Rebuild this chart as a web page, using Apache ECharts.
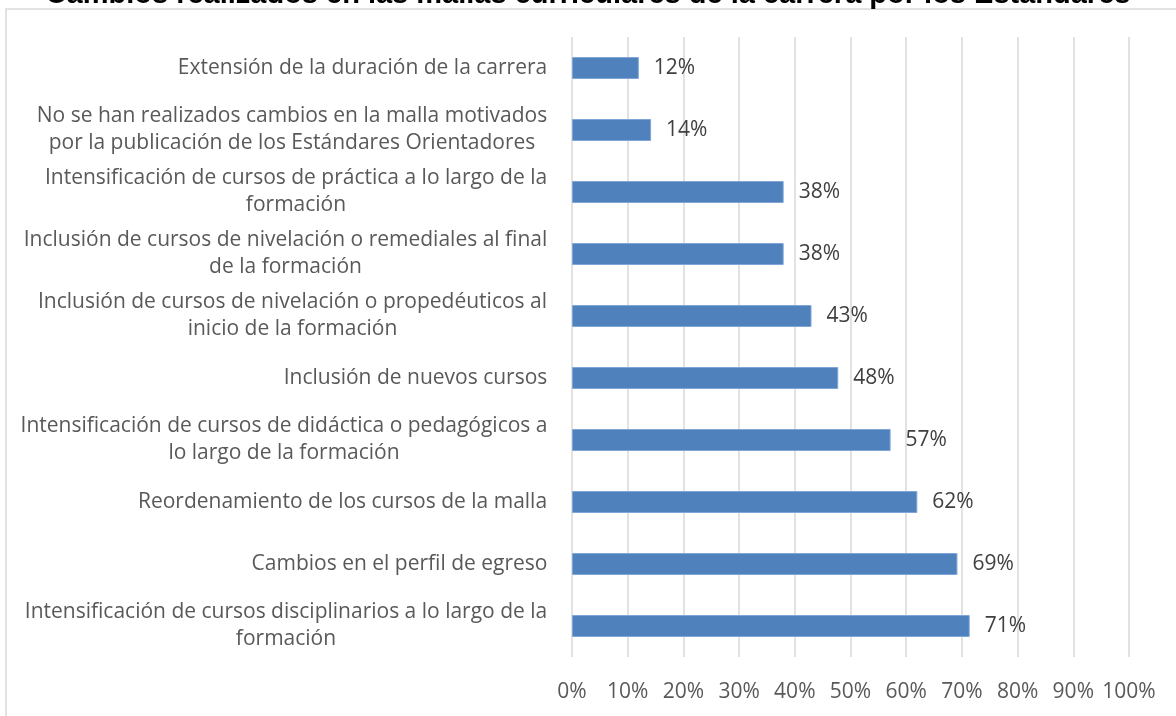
<!DOCTYPE html>
<html>
<head>
<meta charset="utf-8">
<script src="https://cdn.jsdelivr.net/npm/echarts@6/dist/echarts.min.js"></script>
<style>
  html, body { margin: 0; padding: 0; background: #fff; }
  #main { width: 1176px; height: 716px; }
</style>
</head>
<body>
<div id="main"></div>
<script>
// categorias (de arriba hacia abajo)
var categorias = [
  'Extensión de la duración de la carrera',
  'No se han realizados cambios en la malla motivados\npor la publicación de los Estándares Orientadores',
  'Intensificación de cursos de práctica a lo largo de la\nformación',
  'Inclusión de cursos de nivelación o remediales al final\nde la formación',
  'Inclusión de cursos de nivelación o propedéuticos al\ninicio de la formación',
  'Inclusión de nuevos cursos',
  'Intensificación de cursos de didáctica o pedagógicos a\nlo largo de la formación',
  'Reordenamiento de los cursos de la malla',
  'Cambios en el perfil de egreso',
  'Intensificación de cursos disciplinarios a lo largo de la\nformación'
];
var porcentajes = [12, 14.2, 38, 38, 43, 47.8, 57.2, 62, 69.2, 71.4];
var ticks = [0, 10, 20, 30, 40, 50, 60, 70, 80, 90, 100];

var fuente = '"Open Sans", sans-serif';
var tamLabel = 21;

// ancho de cada etiqueta (linea mas larga), para centrar las lineas entre si
var ctx = document.createElement('canvas').getContext('2d');
ctx.font = tamLabel + 'px ' + fuente;
var rich = {};
categorias.forEach(function (c, i) {
  var w = 0;
  c.split('\n').forEach(function (l) { w = Math.max(w, ctx.measureText(l).width); });
  rich['r' + i] = {
    width: Math.ceil(w) + 1,
    align: 'center',
    fontSize: tamLabel,
    fontFamily: fuente,
    color: '#595959',
    lineHeight: 27
  };
});

var myChart = echarts.init(document.getElementById('main'));
myChart.setOption({
  animation: false,
  title: {
    text: 'Cambios realizados en las mallas curriculares de la carrera por los Estándares',
    left: 'center',
    top: -25,
    textStyle: { fontFamily: '"Liberation Sans", Arial', fontWeight: 'bold', fontSize: 29, color: '#000' }
  },
  graphic: [{
    type: 'rect',
    shape: { x: 6, y: 9, width: 1300, height: 900 },
    style: { fill: 'none', stroke: '#d9d9d9', lineWidth: 1.5 },
    silent: true
  }],
  grid: { left: 572, right: 47, top: 37, bottom: 59 },
  xAxis: {
    type: 'value',
    min: 0,
    max: 100,
    interval: 10,
    axisLine: { show: false },
    axisTick: { show: false },
    splitLine: { lineStyle: { color: '#d9d9d9', width: 1.5 } },
    axisLabel: {
      margin: 25,
      color: '#595959',
      fontSize: 21,
      fontFamily: fuente,
      formatter: function (v) { return ticks.indexOf(v) >= 0 ? v + '%' : ''; }
    }
  },
  yAxis: {
    type: 'category',
    inverse: true,
    data: categorias,
    axisLine: { show: false },
    axisTick: { show: false },
    axisLabel: {
      margin: 24,
      align: 'right',
      fontSize: tamLabel,
      fontFamily: fuente,
      color: '#595959',
      lineHeight: 27,
      rich: rich,
      formatter: function (v) {
        var i = categorias.indexOf(v);
        return v.split('\n').map(function (l) { return '{r' + i + '|' + l + '}'; }).join('\n');
      }
    }
  },
  series: [{
    type: 'bar',
    data: porcentajes,
    barWidth: 22,
    itemStyle: { color: '#4f81bd', borderColor: '#7fa6d6', borderWidth: 1 },
    label: {
      show: true,
      position: 'right',
      distance: 15,
      color: '#404040',
      fontSize: 21,
      fontFamily: fuente,
      formatter: function (p) { return Math.round(p.value) + '%'; }
    }
  }]
});
</script>
</body>
</html>
